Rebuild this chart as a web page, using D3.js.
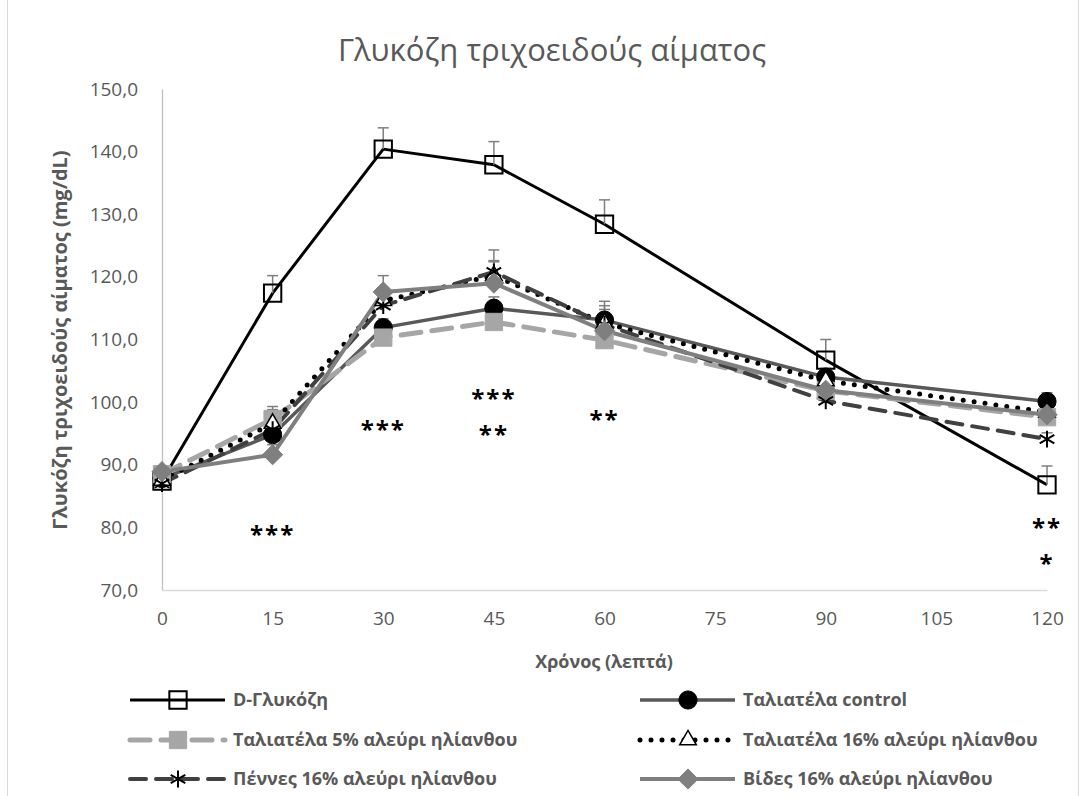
<!DOCTYPE html>
<html>
<head>
<meta charset="utf-8">
<script src="https://cdn.jsdelivr.net/npm/d3@7"></script>
<style>
  body { margin: 0; background: #fff; }
  svg text { font-family: "Open Sans", "Noto Sans", sans-serif; }
</style>
</head>
<body>
<svg width="1089" height="796"></svg>
<script>
// time points (minutes)
const times = [0, 15, 30, 45, 60, 90, 120];
const xTicks = [0, 15, 30, 45, 60, 75, 90, 105, 120];
const yTicks = [70, 80, 90, 100, 110, 120, 130, 140, 150];

// mean glucose per series (mg/dL)
const dGlucose   = [87.4, 117.4, 140.4, 137.9, 128.4, 106.7, 86.8];
const tagControl = [87.8, 94.8, 111.9, 115.0, 113.1, 104.0, 100.1];
const tag5       = [88.5, 97.3, 110.3, 112.8, 109.9, 101.8, 97.6];
const tag16      = [87.5, 96.6, 116.2, 120.2, 112.6, 103.4, 98.4];
const penne16    = [87.0, 95.6, 115.4, 120.8, 112.4, 100.2, 94.1];
const vides16    = [88.9, 91.6, 117.6, 119.0, 111.4, 101.9, 98.0];

// plus error bars
const dGlucoseErr   = [0.8, 2.8, 3.4, 3.7, 3.9, 3.3, 3.0];
const tagControlErr = [0.8, 1.2, 1.4, 1.8, 3.0, 1.4, 1.4];
const tag5Err       = [0.8, 2.0, 1.4, 1.6, 1.4, 1.4, 1.0];
const tag16Err      = [0.8, 2.2, 2.0, 2.4, 2.8, 1.4, 1.0];
const penne16Err    = [0.8, 1.6, 1.8, 3.5, 2.4, 1.4, 1.0];
const vides16Err    = [0.8, 1.6, 2.6, 3.4, 2.4, 1.4, 1.0];

const names = ["D-Γλυκόζη", "Ταλιατέλα control", "Ταλιατέλα 5% αλεύρι ηλίανθου",
  "Ταλιατέλα 16% αλεύρι ηλίανθου", "Πέννες 16% αλεύρι ηλίανθου", "Βίδες 16% αλεύρι ηλίανθου"];

// significance marks
const starTimes  = [15, 30, 45, 45, 60, 120, 120];
const starValues = [79.7, 96.5, 101.5, 95.7, 98.1, 80.9, 75.1];
const starLabels = ["***", "***", "***", "**", "**", "**", "*"];

const series = [
  { name: names[0], values: dGlucose, err: dGlucoseErr, color: "#000", width: 3, dash: null, cap: "butt",
    symbol: d3.symbolSquare, size: 300, fill: "none", stroke: "#000", sw: 2 },
  { name: names[1], values: tagControl, err: tagControlErr, color: "#595959", width: 3.5, dash: null, cap: "butt",
    symbol: d3.symbolCircle, size: 260, fill: "#000", stroke: "#000", sw: 1 },
  { name: names[2], values: tag5, err: tag5Err, color: "#a6a6a6", width: 5, dash: "20,11", cap: "round",
    symbol: d3.symbolSquare, size: 300, fill: "#a6a6a6", stroke: "#a6a6a6", sw: 1 },
  { name: names[3], values: tag16, err: tag16Err, color: "#000", width: 5, dash: "0,11", cap: "round",
    symbol: d3.symbolTriangle, size: 120, fill: "#fff", stroke: "#000", sw: 1.5 },
  { name: names[4], values: penne16, err: penne16Err, color: "#404040", width: 4, dash: "16,10", cap: "round",
    symbol: d3.symbolAsterisk, size: 200, fill: "none", stroke: "#000", sw: 2 },
  { name: names[5], values: vides16, err: vides16Err, color: "#7f7f7f", width: 4, dash: null, cap: "butt",
    symbol: d3.symbolDiamond2, size: 260, fill: "#7f7f7f", stroke: "#7f7f7f", sw: 1 }
];

const svg = d3.select("svg");

// chart frame
svg.append("rect").attr("x", 7.5).attr("y", -2).attr("width", 1071).attr("height", 802)
  .attr("fill", "none").attr("stroke", "#d9d9d9").attr("stroke-width", 1);

const x = d3.scaleLinear().domain([0, 120]).range([162, 1047]);
const y = d3.scaleLinear().domain([70, 150]).range([590, 89]);

// title
svg.append("text").attr("x", 552).attr("y", 61).attr("text-anchor", "middle")
  .attr("font-size", 31).attr("fill", "#595959").text("Γλυκόζη τριχοειδούς αίματος");

// axes
const yAxis = d3.axisLeft(y).tickValues(yTicks).tickSize(0).tickPadding(24)
  .tickFormat(d => d3.format(".1f")(d).replace(".", ","));
const gy = svg.append("g").attr("transform", "translate(162,0)").call(yAxis);
gy.select(".domain").attr("stroke", "#bfbfbf").attr("stroke-width", 1.3);
gy.selectAll("text").attr("font-size", 19).attr("fill", "#595959")
  .attr("font-family", "Open Sans, sans-serif");

const xAxis = d3.axisBottom(x).tickValues(xTicks).tickSize(0).tickPadding(22);
const gx = svg.append("g").attr("transform", "translate(0,590)").call(xAxis);
gx.select(".domain").attr("stroke", "#d9d9d9").attr("stroke-width", 1.3);
gx.selectAll("text").attr("font-size", 19).attr("fill", "#595959")
  .attr("font-family", "Open Sans, sans-serif");

// axis titles
svg.append("text").attr("x", 604).attr("y", 668).attr("text-anchor", "middle")
  .attr("font-size", 18).attr("font-weight", "bold").attr("fill", "#595959").text("Χρόνος (λεπτά)");
svg.append("text").attr("transform", "translate(67,340) rotate(-90)").attr("text-anchor", "middle")
  .attr("font-size", 20).attr("font-weight", "bold").attr("fill", "#595959")
  .text("Γλυκόζη τριχοειδούς αίματος (mg/dL)");

const line = d3.line().x((d, i) => x(times[i])).y(d => y(d));

// lines
series.forEach(s => {
  svg.append("path").datum(s.values).attr("d", line)
    .attr("fill", "none").attr("stroke", s.color).attr("stroke-width", s.width)
    .attr("stroke-dasharray", s.dash).attr("stroke-linecap", s.cap)
    .attr("stroke-linejoin", "round");
});

// error bars
series.forEach(s => {
  const g = svg.append("g").attr("stroke", "#7f7f7f").attr("stroke-width", 1.5);
  s.values.forEach((v, i) => {
    const cx = x(times[i]);
    g.append("line").attr("x1", cx).attr("x2", cx).attr("y1", y(v)).attr("y2", y(v + s.err[i]));
    g.append("line").attr("x1", cx - 5.5).attr("x2", cx + 5.5).attr("y1", y(v + s.err[i])).attr("y2", y(v + s.err[i]));
  });
});

// markers
function marker(g, s, cx, cy) {
  g.append("path").attr("d", d3.symbol().type(s.symbol).size(s.size)())
    .attr("transform", `translate(${cx},${cy})`)
    .attr("fill", s.fill).attr("stroke", s.stroke).attr("stroke-width", s.sw);
}
series.forEach(s => {
  const g = svg.append("g");
  s.values.forEach((v, i) => marker(g, s, x(times[i]), y(v)));
});

// significance asterisks
starLabels.forEach((lab, i) => {
  svg.append("text").attr("x", x(starTimes[i])).attr("y", y(starValues[i]) + 14)
    .attr("text-anchor", "middle").attr("font-size", 24).attr("font-weight", "bold")
    .attr("fill", "#000").attr("letter-spacing", 2).text(lab);
});

// legend
const legCols = [130, 640];
const legRows = [700, 740, 779];
series.forEach((s, i) => {
  const lx = legCols[i % 2], ly = legRows[Math.floor(i / 2)];
  const g = svg.append("g");
  g.append("line").attr("x1", lx).attr("x2", lx + 95).attr("y1", ly).attr("y2", ly)
    .attr("stroke", s.color).attr("stroke-width", s.width)
    .attr("stroke-dasharray", s.dash).attr("stroke-linecap", s.cap);
  marker(g, s, lx + 48, ly);
  g.append("text").attr("x", lx + 103).attr("y", ly).attr("dy", "0.35em")
    .attr("font-size", 18).attr("font-weight", "bold").attr("fill", "#595959").text(s.name);
});
</script>
</body>
</html>
